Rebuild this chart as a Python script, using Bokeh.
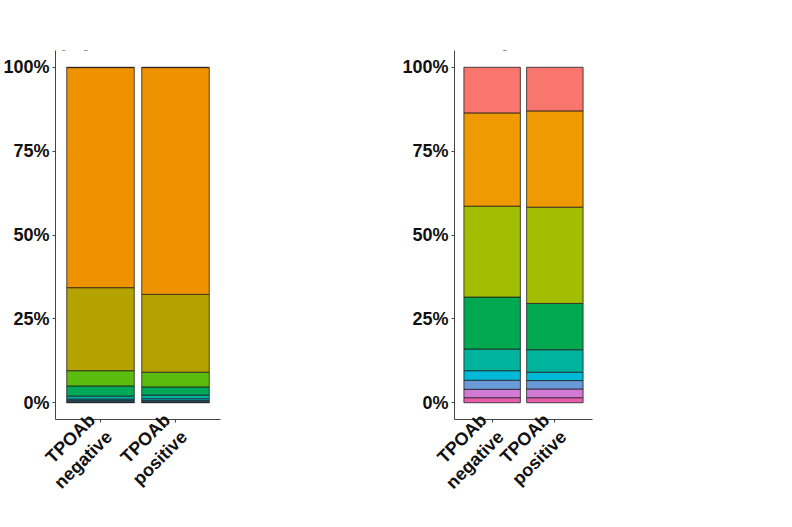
import math
from bokeh.plotting import figure
from bokeh.layouts import row
from bokeh.models import (ColumnDataSource, Range1d, FixedTicker, Legend, LegendItem, Label)
from bokeh.embed import file_html
from bokeh.resources import INLINE

FONT = "Liberation Sans"

groups = ["TPOAb\nnegative", "TPOAb\npositive"]
y_ticks = [0, 25, 50, 75, 100]
y_tick_labels = ["0%", "25%", "50%", "75%", "100%"]

# Panel A (legend order, top of stack first)
phylum_names = ["Other", "Firmicutes", "Bacteroidetes", "Actinobacteria", "Proteobacteria",
                "Verrucomicrobia", "Tenericutes", "Cyanobacteria", "Euryarchaeota",
                "Spirochaetes", "Lentisphaerae"]
phylum_negative = [0.1, 65.6, 24.75, 4.55, 3.0, 0.9, 0.4, 0.4, 0.1, 0.1, 0.1]
phylum_positive = [0.1, 67.6, 23.2, 4.4, 2.4, 1.1, 0.5, 0.4, 0.1, 0.1, 0.1]
phylum_colors = ["#F8766D", "#EE9200", "#B3A200", "#5BBC0E", "#00A95A", "#00B3A0",
                 "#00B6D6", "#1A9BE0", "#A98AE6", "#D872CF", "#EC5AA4"]

# Panel B
family_names = ["Other", "Lachnospiraceae", "Ruminococcaceae", "Prevotellaceae",
                "Bacteroidaceae", "Veillonellaceae", "Bifidobacteriaceae",
                "Erysipelotrichaceae", "Christensenellaceae"]
family_negative = [13.6, 27.8, 27.1, 15.5, 6.45, 2.85, 2.7, 2.5, 1.5]
family_positive = [13.0, 28.7, 28.7, 13.8, 6.7, 2.5, 2.5, 2.6, 1.5]
family_colors = ["#F8766D", "#EE9A00", "#A2BE00", "#00A94F", "#00B39C", "#00B8D8",
                 "#6A9BD8", "#D27BD6", "#E75EAC"]


def make_panel(names, neg, pos, colors, legend_title, title1, title2, letter,
               width, border_left, border_right, legend_loc, t2_dx, letter_x):
    p = figure(width=width, height=511, output_backend="svg", toolbar_location=None,
               x_range=Range1d(0.4, 2.6), y_range=Range1d(-5, 105),
               min_border_left=border_left, min_border_right=border_right,
               min_border_top=50, min_border_bottom=70)
    p.outline_line_color = None
    p.xgrid.visible = False
    p.ygrid.visible = False
    p.background_fill_color = "white"

    data = {"x": [1, 2]}
    keys = []
    for i, n in enumerate(names):
        k = "s%d" % i
        keys.append(k)
        data[k] = [neg[i], pos[i]]
    src = ColumnDataSource(data)
    stack_keys = keys[::-1]
    stack_colors = colors[::-1]
    rends = p.vbar_stack(stack_keys, x="x", width=0.9, source=src, fill_color=stack_colors,
                         line_color="#222222", line_width=0.8)
    rends = rends[::-1]

    items = [LegendItem(label=n, renderers=[r]) for n, r in zip(names, rends)]
    leg = Legend(items=items, location=legend_loc, title=legend_title,
                 title_text_font=FONT, title_text_font_size="17px", title_text_font_style="normal",
                 title_text_color="#111111", title_standoff=6,
                 label_text_font=FONT, label_text_font_size="16px", label_text_color="#111111",
                 glyph_width=15, glyph_height=15, label_height=15, spacing=1,
                 label_standoff=10, padding=0, margin=0,
                 border_line_color=None, background_fill_alpha=0)
    p.add_layout(leg, "center")

    # axes
    p.yaxis.ticker = FixedTicker(ticks=y_ticks)
    p.yaxis.major_label_overrides = {t: l for t, l in zip(y_ticks, y_tick_labels)}
    p.xaxis.ticker = FixedTicker(ticks=[1, 2])
    p.xaxis.major_label_overrides = {1: groups[0], 2: groups[1]}
    p.xaxis.major_label_orientation = math.pi / 4
    for ax in (p.xaxis, p.yaxis):
        ax.axis_line_color = "#444444"
        ax.axis_line_width = 1
        ax.major_tick_line_color = "#444444"
        ax.major_tick_in = 0
        ax.major_tick_out = 3
        ax.minor_tick_line_color = None
        ax.major_label_text_font = FONT
        ax.major_label_text_font_size = "18px"
        ax.major_label_text_font_style = "bold"
        ax.major_label_text_color = "#111111"
        ax.major_label_standoff = 3

    for txt, x, y in ((title1, 0.413, 112.7), (title2, 0.413 + t2_dx, 107.75)):
        p.add_layout(Label(x=x, y=y, text=txt, text_font=FONT, text_font_size="18px",
                           text_font_style="bold", text_color="#111111",
                           text_baseline="alphabetic", text_align="left"))
    p.add_layout(Label(x=letter_x, y=113.6, text=letter, text_font=FONT, text_font_size="18px",
                       text_font_style="bold", text_color="#111111",
                       text_baseline="alphabetic", text_align="left"))
    return p


pa = make_panel(phylum_names, phylum_negative, phylum_positive, phylum_colors, "Phylum",
                "Distribution of average", "phylum abundance", "A",
                392, 51, 172, (184, 97), 0.065, 3.93)
pb = make_panel(family_names, family_negative, family_positive, family_colors, "Family",
                "Distribution of average", "family abundance", "B",
                384, 62, 184, (155, 112), 0.08, 4.80)

layout = row(pa, pb)
open("out.html", "w").write(file_html(layout, INLINE))
